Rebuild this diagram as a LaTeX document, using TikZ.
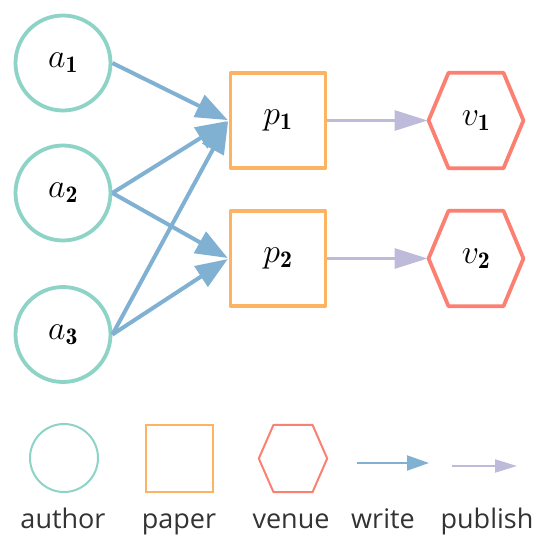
\RequirePackage{fix-cm}
\documentclass[tikz,border=0pt]{standalone}
\usepackage{fontspec}
\setsansfont{Open Sans}
\usetikzlibrary{arrows.meta}
\definecolor{cauthor}{HTML}{8DD3C7}
\definecolor{cpaper}{HTML}{FDB462}
\definecolor{cvenue}{HTML}{FB8072}
\definecolor{cwrite}{HTML}{80B1D3}
\definecolor{cpub}{HTML}{BEBADA}
\definecolor{ctext}{HTML}{333333}
\newcommand\drawhex[3]{\draw[#3] ([xshift=-#2]#1.north) -- ([xshift=#2]#1.north) -- (#1.east) -- ([xshift=#2]#1.south) -- ([xshift=-#2]#1.south) -- (#1.west) -- cycle;}
\begin{document}
\begin{tikzpicture}[x=1pt,y=-1pt,
  mathlab/.style={font=\fontsize{34}{40}\selectfont},
  author/.style={circle,draw=cauthor,line width=3.8pt,minimum size=95pt,inner sep=0pt,mathlab},
  paper/.style={rectangle,draw=cpaper,line width=3.8pt,minimum size=95pt,inner sep=0pt,line join=round,mathlab},
  venue/.style={rectangle,minimum width=94.5pt,minimum height=95pt,inner sep=0pt,mathlab},
  venuehex/.style={draw=cvenue,line width=3.8pt,line join=round},
  writearrow/.style={-{Triangle[length=32pt,width=24pt]},draw=cwrite,line width=4pt,shorten >=1pt},
  pubarrow/.style={-{Triangle[length=33pt,width=20pt]},draw=cpub,line width=3pt,shorten >=1pt},
  lauthor/.style={circle,draw=cauthor,line width=2pt,minimum size=68pt,inner sep=0pt},
  lpaper/.style={rectangle,draw=cpaper,line width=2pt,minimum size=67pt,inner sep=0pt},
  lvenue/.style={rectangle,minimum width=68pt,minimum height=67pt,inner sep=0pt},
  lvenuehex/.style={draw=cvenue,line width=2pt,line join=round},
  lwrite/.style={-{Triangle[length=22pt,width=15pt]},draw=cwrite,line width=2pt},
  lpub/.style={-{Triangle[length=22pt,width=13pt]},draw=cpub,line width=2pt},
  legtext/.style={anchor=base,inner sep=0pt,text=ctext,font=\sffamily\fontsize{27}{32}\selectfont}
]
\useasboundingbox (0,0) rectangle (546,550);
% main nodes
\node[author] (a1) at (63,63) {$a_{\mathbf{1}}$};
\node[author] (a2) at (63,193) {$a_{\mathbf{2}}$};
\node[author] (a3) at (63,334.5) {$a_{\mathbf{3}}$};
\node[paper] (p1) at (278,120.5) {$p_{\mathbf{1}}$};
\node[paper] (p2) at (278,258.5) {$p_{\mathbf{2}}$};
\node[venue] (v1) at (476,120.5) {$v_{\mathbf{1}}$};
\node[venue] (v2) at (476,258.5) {$v_{\mathbf{2}}$};
\drawhex{v1}{27.5pt}{venuehex}
\drawhex{v2}{27.5pt}{venuehex}
% edges
\draw[writearrow] (a1.east) -- (p1.west);
\draw[writearrow] (a2.east) -- (p1.west);
\draw[writearrow] (a2.east) -- (p2.west);
\draw[writearrow] (a3.east) -- (p1.west);
\draw[writearrow] (a3.east) -- (p2.west);
\draw[pubarrow] (p1.east) -- (v1.west);
\draw[pubarrow] (p2.east) -- (v2.west);
% legend
\node[lauthor] (la) at (64,458) {};
\node[lpaper] (lp) at (179,458.5) {};
\node[lvenue] (lv) at (293,458.5) {};
\drawhex{lv}{19.5pt}{lvenuehex}
\coordinate (lws) at (357,463);
\coordinate (lwe) at (429,463);
\coordinate (lps) at (452,466);
\coordinate (lpe) at (517,466);
\draw[lwrite] (lws) -- (lwe);
\draw[lpub] (lps) -- (lpe);
\node[legtext] (ta) at (63,528) {author};
\node[legtext] (tp) at (179,528) {paper};
\node[legtext] (tv) at (291,528) {venue};
\node[legtext] (tw) at (383,528) {write};
\node[legtext] (tpu) at (487,528) {publish};
\end{tikzpicture}
\end{document}
